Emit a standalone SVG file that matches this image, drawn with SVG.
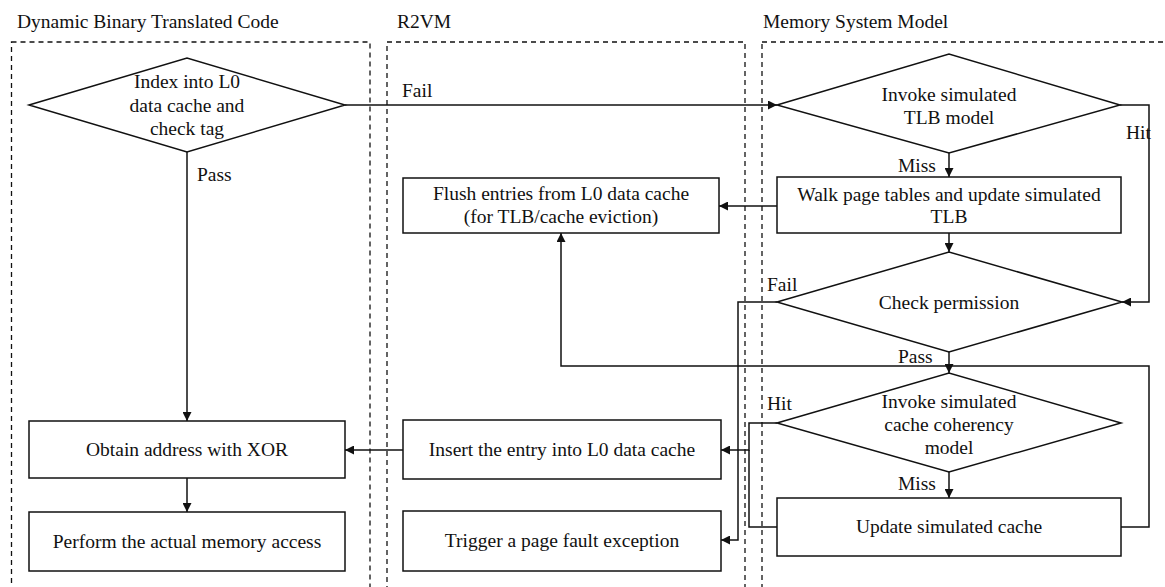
<svg xmlns="http://www.w3.org/2000/svg" width="1165" height="587" viewBox="0 0 1165 587">
<style>
text{font-family:"Liberation Serif","Times New Roman",serif;font-size:19.5px;fill:#111}
.t{text-anchor:middle}
.lane{fill:none;stroke:#111;stroke-width:1.3;stroke-dasharray:5,4}
.n{fill:#fff;stroke:#111;stroke-width:1.5}
.e{fill:none;stroke:#111;stroke-width:1.5}
</style>
<defs>
<marker id="ah" markerUnits="userSpaceOnUse" markerWidth="10" markerHeight="9" refX="9" refY="4.5" orient="auto">
<path d="M0,0 L9,4.5 L0,9 z" fill="#111"/>
</marker>
</defs>
<rect width="1165" height="587" fill="#fff"/>
<g id="lanes">
<rect class="lane" x="11.5" y="42" width="358.5" height="560"/>
<rect class="lane" x="387" y="42" width="358" height="560"/>
<rect class="lane" x="762" y="42" width="420" height="560"/>
<text x="17" y="28">Dynamic Binary Translated Code</text>
<text x="397" y="28">R2VM</text>
<text x="763" y="28">Memory System Model</text>
</g>
<g id="connectors">
<path class="e" d="M345,105 H777" marker-end="url(#ah)"/>
<path class="e" d="M187,152 V421" marker-end="url(#ah)"/>
<path class="e" d="M187,478 V512" marker-end="url(#ah)"/>
<path class="e" d="M403,450 H345" marker-end="url(#ah)"/>
<path class="e" d="M949,153 V177" marker-end="url(#ah)"/>
<path class="e" d="M1120,105 H1149 V302 H1122" marker-end="url(#ah)"/>
<path class="e" d="M777,206 H719" marker-end="url(#ah)"/>
<path class="e" d="M949,233 V252" marker-end="url(#ah)"/>
<path class="e" d="M777,302 H738 V540 H721" marker-end="url(#ah)"/>
<path class="e" d="M949,352 V373" marker-end="url(#ah)"/>
<path class="e" d="M777,423 H749 V450 H721" marker-end="url(#ah)"/>
<path class="e" d="M777,527 H749 V450"/>
<path class="e" d="M949,472 V498" marker-end="url(#ah)"/>
<path class="e" d="M1121,527 H1149 V366 H561 V233" marker-end="url(#ah)"/>
<text x="402" y="97">Fail</text>
<text x="197" y="181">Pass</text>
<text x="1126" y="139">Hit</text>
<text x="898" y="172">Miss</text>
<text x="767" y="291">Fail</text>
<text x="898" y="363">Pass</text>
<text x="767" y="410">Hit</text>
<text x="898" y="490">Miss</text>
</g>
<g id="n-index">
<polygon class="n" points="29,105 187,58 345,105 187,152"/>
<text class="t" x="187" y="88">Index into L0</text>
<text class="t" x="187" y="112">data cache and</text>
<text class="t" x="187" y="135">check tag</text>
</g>
<g id="n-obtain">
<rect class="n" x="29" y="421" width="316" height="57"/>
<text class="t" x="187" y="456">Obtain address with XOR</text>
</g>
<g id="n-perform">
<rect class="n" x="29" y="512" width="316" height="59"/>
<text class="t" x="187" y="548">Perform the actual memory access</text>
</g>
<g id="n-flush">
<rect class="n" x="403" y="178" width="316" height="55"/>
<text class="t" x="561" y="200">Flush entries from L0 data cache</text>
<text class="t" x="561" y="223">(for TLB/cache eviction)</text>
</g>
<g id="n-insert">
<rect class="n" x="403" y="420" width="318" height="59"/>
<text class="t" x="562" y="456">Insert the entry into L0 data cache</text>
</g>
<g id="n-trigger">
<rect class="n" x="403" y="511" width="318" height="60"/>
<text class="t" x="562" y="547">Trigger a page fault exception</text>
</g>
<g id="n-tlb">
<polygon class="n" points="777,105 949,54 1120,105 949,153"/>
<text class="t" x="949" y="101">Invoke simulated</text>
<text class="t" x="949" y="124">TLB model</text>
</g>
<g id="n-walk">
<rect class="n" x="777" y="177" width="344" height="56"/>
<text class="t" x="949" y="201">Walk page tables and update simulated</text>
<text class="t" x="949" y="223">TLB</text>
</g>
<g id="n-check">
<polygon class="n" points="777,302 949,252 1122,302 949,352"/>
<text class="t" x="949" y="309">Check permission</text>
</g>
<g id="n-coherency">
<polygon class="n" points="777,423 949,373 1121,423 949,472"/>
<text class="t" x="949" y="408">Invoke simulated</text>
<text class="t" x="949" y="431">cache coherency</text>
<text class="t" x="949" y="454">model</text>
</g>
<g id="n-update">
<rect class="n" x="777" y="498" width="344" height="58"/>
<text class="t" x="949" y="533">Update simulated cache</text>
</g>
</svg>
